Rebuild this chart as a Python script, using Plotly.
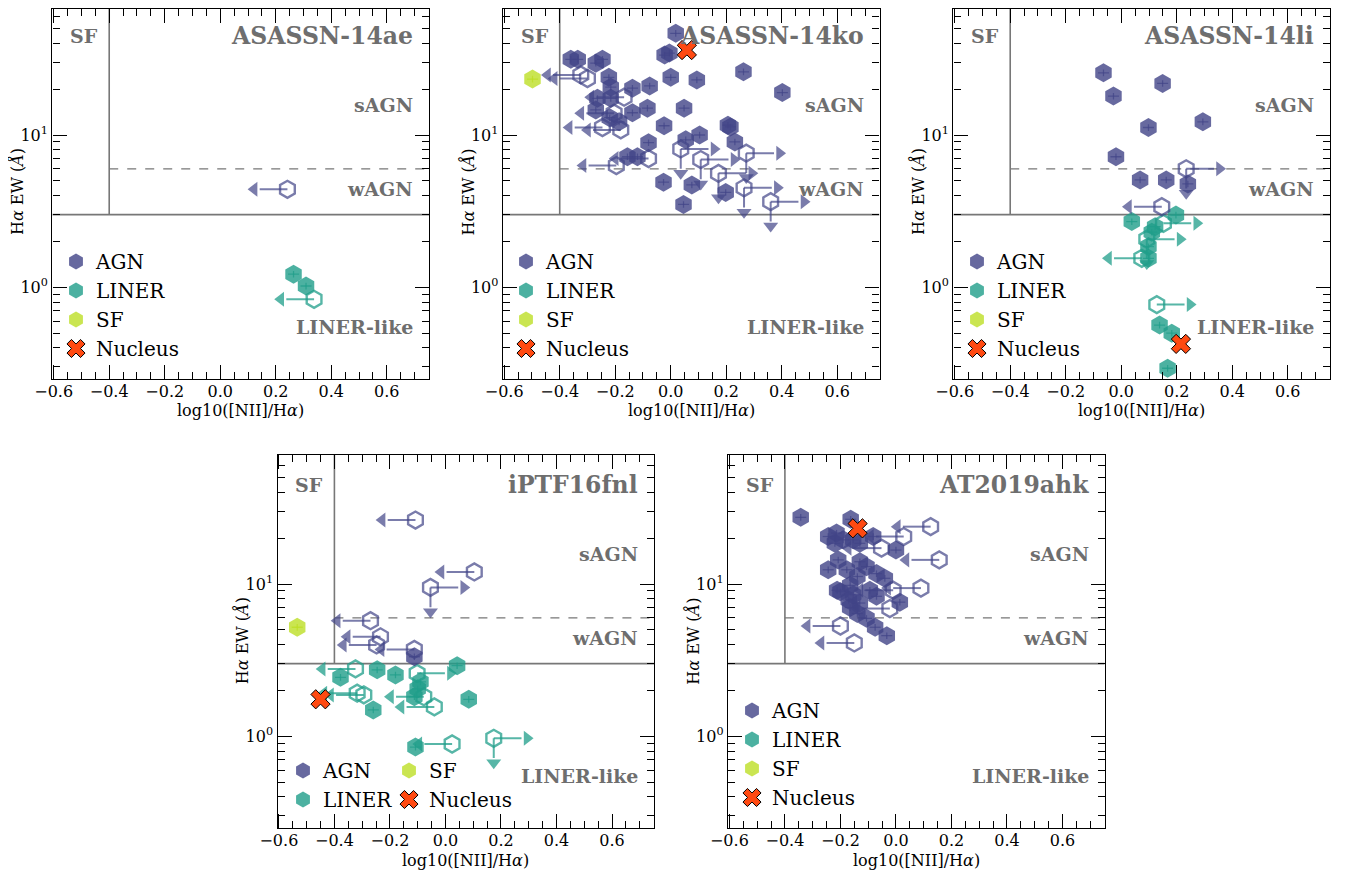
import plotly.graph_objects as go

# ---------------- data ----------------
TITLES = ["ASASSN-14ae", "ASASSN-14ko", "ASASSN-14li", "iPTF16fnl", "AT2019ahk"]

# WHAN boundaries
SF_NII = -0.4
AGN_EW = 3.0
STRONG_EW = 6.0

X_TICKS = [-0.6, -0.4, -0.2, 0.0, 0.2, 0.4, 0.6]
X_TICKTEXT = ["\u22120.6", "\u22120.4", "\u22120.2", "0.0", "0.2", "0.4", "0.6"]
Y_TICKS = [1, 10]
Y_TICKTEXT = ["10<sup>0</sup>", "10<sup>1</sup>"]

# panel 1: ASASSN-14ae
p1_x = [0.242, 0.264, 0.309, 0.338]
p1_y = [4.4, 1.22, 1.02, 0.834]
p1_cls = ["AGN", "LINER", "LINER", "LINER"]
p1_lim = ["L", "", "", "L"]
p1_nuc_x = []
p1_nuc_y = []

# panel 2: ASASSN-14ko
p2_x = [0.018, -0.022, -0.005, -0.36, -0.335, -0.246, -0.27, -0.223, 0.0, 0.094, 0.262, 0.402,
        -0.216, -0.138, -0.076, -0.264, -0.216, 0.048, -0.138, -0.084, -0.27, -0.186, -0.024,
        0.206, 0.215, 0.054, 0.104, -0.08, 0.231, -0.12, -0.156, -0.026, 0.076, 0.198, 0.046,
        -0.22,
        -0.498,
        -0.324, -0.3, -0.168, -0.204, -0.246, -0.18, -0.08, -0.196,
        0.036, 0.108, 0.272, 0.172, 0.264, 0.36]
p2_y = [46.5, 33.5, 34.5, 31.4, 31.4, 31.4, 29.6, 23.9, 23.9, 23.0, 26.0, 19.0,
        20.6, 20.3, 21.0, 17.4, 17.4, 15.0, 14.0, 15.0, 14.6, 12.2, 11.5,
        11.6, 11.3, 9.3, 10.0, 8.9, 9.0, 7.2, 7.2, 4.9, 4.7, 4.2, 3.5,
        13.0,
        23.3,
        24.8, 23.5, 17.7, 13.9, 11.2, 10.8, 7.0, 6.3,
        8.1, 6.9, 7.6, 5.6, 4.5, 3.65]
p2_cls = ["AGN"] * 36 + ["SF"] + ["AGN"] * 14
p2_lim = [""] * 37 + ["L"] * 8 + ["RD"] * 6
p2_nuc_x = [0.058]
p2_nuc_y = [36.1]

# panel 3: ASASSN-14li
p3_x = [-0.064, 0.149, -0.028, 0.294, 0.098, -0.019, 0.24, 0.068, 0.162,
        0.234, 0.146,
        0.038, 0.197, 0.122, 0.098, 0.098, 0.138, 0.182, 0.167, 0.11,
        0.152, 0.092, 0.074, 0.128]
p3_y = [25.6, 21.8, 18.0, 12.2, 11.2, 7.2, 4.77, 5.07, 5.07,
        6.0, 3.38,
        2.7, 2.98, 2.5, 1.85, 1.55, 0.565, 0.50, 0.294, 2.3,
        2.63, 2.07, 1.55, 0.77]
p3_cls = ["AGN"] * 11 + ["LINER"] * 13
p3_lim = [""] * 9 + ["RD", "L"] + [""] * 9 + ["R", "RD", "L", "R"]
p3_nuc_x = [0.215]
p3_nuc_y = [0.425]

# panel 4: iPTF16fnl
p4_x = [-0.108, 0.104, -0.054, -0.27, -0.234, -0.248, -0.112,
        -0.112,
        -0.534,
        -0.324, -0.102, -0.318, -0.294, -0.078, -0.04, 0.174, 0.024,
        -0.378, -0.246, -0.18, -0.09, 0.042, -0.26, -0.112, 0.084, -0.108, -0.1]
p4_y = [26.3, 12.0, 9.5, 5.74, 4.5, 3.98, 3.72,
        3.33,
        5.2,
        2.77, 2.59, 1.92, 1.87, 1.82, 1.56, 0.97, 0.89,
        2.44, 2.73, 2.53, 2.28, 2.91, 1.49, 1.82, 1.75, 0.85, 2.05]
p4_cls = ["AGN"] * 8 + ["SF"] + ["LINER"] * 18
p4_lim = ["L", "L", "RD", "L", "L", "L", "L", "", "",
          "L", "R", "L", "L", "L", "L", "RD", "L"] + [""] * 10
p4_nuc_x = [-0.45]
p4_nuc_y = [1.75]

# panel 5: AT2019ahk
p5_x = [-0.343, -0.163, -0.244, -0.214, -0.22, -0.19, -0.154, -0.13, -0.082, 0.0, -0.208,
        -0.244, -0.177, -0.13, -0.106, -0.07, -0.04, -0.139, -0.165, -0.2, -0.094, -0.17,
        -0.13, -0.07, 0.014, -0.139, -0.106, -0.165, -0.212, -0.154, -0.033, -0.075,
        0.125, 0.028, -0.052, 0.156, 0.09, -0.01, -0.022, -0.2, -0.15]
p5_y = [27.4, 26.6, 20.5, 21.6, 18.5, 19.5, 19.5, 18.5, 20.5, 16.7, 14.4,
        12.4, 12.4, 14.0, 13.0, 11.7, 10.9, 11.2, 9.8, 8.9, 9.1, 7.85,
        7.5, 8.3, 7.6, 6.4, 5.95, 7.0, 9.1, 8.5, 4.58, 5.2,
        23.8, 20.5, 17.2, 14.4, 9.4, 9.1, 6.9, 5.3, 4.1]
p5_cls = ["AGN"] * 41
p5_lim = [""] * 32 + ["L"] * 9
p5_nuc_x = [-0.138]
p5_nuc_y = [23.2]

PANELS = [
    (p1_x, p1_y, p1_cls, p1_lim, p1_nuc_x, p1_nuc_y),
    (p2_x, p2_y, p2_cls, p2_lim, p2_nuc_x, p2_nuc_y),
    (p3_x, p3_y, p3_cls, p3_lim, p3_nuc_x, p3_nuc_y),
    (p4_x, p4_y, p4_cls, p4_lim, p4_nuc_x, p4_nuc_y),
    (p5_x, p5_y, p5_cls, p5_lim, p5_nuc_x, p5_nuc_y),
]

# ---------------- style ----------------
W, H = 1346, 877
OFF = 8  # page body margin
SERIF = "DejaVu Serif"
XR = [-0.605, 0.752]
COL = {"AGN": "rgba(65,68,135,0.8)", "LINER": "rgba(31,158,137,0.8)", "SF": "rgba(189,223,38,0.8)"}
COL_LINE = {"AGN": "rgba(65,68,135,0.7)", "LINER": "rgba(31,158,137,0.75)", "SF": "rgba(189,223,38,0.8)"}
NUC_C = "#ff4a12"
REG_C = "#777777"
LABEL_C = "#6e6e6e"
ARROW_DX = 0.12
ARROW_DLOG = 0.16
DECADE = 152.3  # px per decade

# panel placement in page pixels: (left, top, bottom, pixel of y=10)
PIX = [(52.3, 9.0, 379.3, 135.0), (502.8, 9.0, 379.3, 135.0), (953.3, 9.0, 379.3, 135.0),
       (277.5, 454.7, 828.3, 584.0), (728.0, 454.7, 828.3, 584.0)]
PW = 376.7

fig = go.Figure()
layout = dict(width=W, height=H, margin=dict(l=0, r=0, t=0, b=0),
              paper_bgcolor="white", plot_bgcolor="white", showlegend=True,
              font=dict(family=SERIF, size=16, color="black"))
annotations = []

minor_y = [v * 0.1 for v in range(3, 10)] + list(range(2, 10)) + [20, 30, 40, 50, 60, 70]

for k, (xs, ys, cls, lim, nx, ny) in enumerate(PANELS, start=1):
    xa = "x" if k == 1 else f"x{k}"
    ya = "y" if k == 1 else f"y{k}"
    left, top, bot, y10 = PIX[k - 1]
    yr = [1 - (bot - y10) / DECADE, 1 + (y10 - top) / DECADE]
    ytop_val = 10 ** yr[1]
    left -= OFF
    top -= OFF
    bot -= OFF
    dom_x = [left / W, (left + PW) / W]
    dom_y = [1 - bot / H, 1 - top / H]
    axcommon = dict(showline=True, linecolor="black", linewidth=1.4, mirror="allticks",
                    ticks="inside", ticklen=14, tickwidth=1.2, tickcolor="black",
                    showgrid=False, zeroline=False, automargin=False,
                    tickfont=dict(family=SERIF, size=16, color="black"))
    layout["xaxis" if k == 1 else f"xaxis{k}"] = dict(
        axcommon, domain=dom_x, anchor=ya, range=XR, tickvals=X_TICKS, ticktext=X_TICKTEXT,
        ticklabelstandoff=-3,
        minor=dict(ticks="inside", ticklen=7, tickwidth=1.0, tickcolor="black", dtick=0.05, tick0=0))
    layout["yaxis" if k == 1 else f"yaxis{k}"] = dict(
        axcommon, domain=dom_y, anchor=xa, type="log",
        range=yr, tickvals=Y_TICKS, ticktext=Y_TICKTEXT,
        minor=dict(ticks="inside", ticklen=7, tickwidth=1.0, tickcolor="black", tickvals=minor_y))

    common = dict(xaxis=xa, yaxis=ya, showlegend=False, hoverinfo="skip")
    # region lines
    fig.add_trace(go.Scatter(x=[XR[0], XR[1]], y=[AGN_EW, AGN_EW], mode="lines",
                             line=dict(color=REG_C, width=1.6), **common))
    fig.add_trace(go.Scatter(x=[SF_NII, SF_NII], y=[AGN_EW, ytop_val], mode="lines",
                             line=dict(color=REG_C, width=1.6), **common))
    fig.add_trace(go.Scatter(x=[SF_NII, XR[1]], y=[STRONG_EW, STRONG_EW], mode="lines",
                             line=dict(color=REG_C, width=1.3, dash="dash"), **common))

    for c in ["SF", "LINER", "AGN"]:
        fx = [x for x, cc, l in zip(xs, cls, lim) if cc == c and l == ""]
        fy = [y for y, cc, l in zip(ys, cls, lim) if cc == c and l == ""]
        ox = [x for x, cc, l in zip(xs, cls, lim) if cc == c and l != ""]
        oy = [y for y, cc, l in zip(ys, cls, lim) if cc == c and l != ""]
        ol = [l for cc, l in zip(cls, lim) if cc == c and l != ""]
        # arrows
        lx, ly = [], []
        heads = {"triangle-left": ([], []), "triangle-right": ([], []), "triangle-down": ([], [])}
        for x, y, l in zip(ox, oy, ol):
            if "L" in l:
                lx += [x, x - ARROW_DX + 0.02, None]; ly += [y, y, None]
                heads["triangle-left"][0].append(x - ARROW_DX); heads["triangle-left"][1].append(y)
            if "R" in l:
                lx += [x, x + ARROW_DX - 0.02, None]; ly += [y, y, None]
                heads["triangle-right"][0].append(x + ARROW_DX); heads["triangle-right"][1].append(y)
            if "D" in l:
                yd = y * 10 ** (-ARROW_DLOG)
                lx += [x, x, None]; ly += [y, yd * 10 ** 0.03, None]
                heads["triangle-down"][0].append(x); heads["triangle-down"][1].append(yd)
        if lx:
            fig.add_trace(go.Scatter(x=lx, y=ly, mode="lines",
                                     line=dict(color=COL_LINE[c], width=2), **common))
            for sym, (hx, hy) in heads.items():
                if hx:
                    fig.add_trace(go.Scatter(x=hx, y=hy, mode="markers",
                                             marker=dict(symbol=sym, size=13, color=COL_LINE[c],
                                                         line=dict(width=0)), **common))
        if ox:
            fig.add_trace(go.Scatter(x=ox, y=oy, mode="markers",
                                     marker=dict(symbol="hexagon-open", size=17,
                                                 color=COL_LINE[c], line=dict(width=2.4, color=COL_LINE[c])),
                                     **common))
        if fx:
            fig.add_trace(go.Scatter(x=fx, y=fy, mode="markers",
                                     marker=dict(symbol="hexagon", size=19, color=COL[c], line=dict(width=0)),
                                     error_x=dict(type="constant", value=0.02, color=COL_LINE[c], thickness=1.3, width=0),
                                     error_y=dict(type="percent", value=5, color=COL_LINE[c], thickness=1.3, width=0),
                                     **common))
    if nx:
        fig.add_trace(go.Scatter(x=nx, y=ny, mode="markers",
                                 marker=dict(symbol="x", size=17, color=NUC_C, line=dict(width=1, color="black")),
                                 **common))

    # legends
    leg_names = ["AGN", "LINER", "SF", "Nucleus"]
    if k == 4:
        leg_ids = ["legend4", "legend4", "legend6", "legend6"]
    else:
        lid = "legend" if k == 1 else f"legend{k}"
        leg_ids = [lid] * 4
    for name, lid in zip(leg_names, leg_ids):
        if name == "Nucleus":
            mk = dict(symbol="x", size=17, color=NUC_C, line=dict(width=1, color="black"))
        else:
            mk = dict(symbol="hexagon", size=18, color=COL[name], line=dict(width=0))
        fig.add_trace(go.Scatter(x=[None], y=[None], mode="markers", marker=mk, name=name,
                                 legend=lid, showlegend=True,
                                 xaxis=xa, yaxis=ya, hoverinfo="skip"))

    # annotations in page-pixel offsets relative to the axes box
    ph = bot - top
    def fy_(py):
        return 1 - (py - (top + OFF)) / ph
    def fx_(px):
        return (px - (left + OFF)) / PW
    xd = f"{xa} domain"
    yd = f"{ya} domain"
    y10 = PIX[k - 1][3]
    sh = left + OFF - 52.3
    lab = dict(family=SERIF, size=19, color=LABEL_C, weight="bold")
    annotations += [
        dict(xref=xd, yref=yd, x=fx_(68 + sh), y=fy_(y10 - 99), text="SF", showarrow=False,
             xanchor="left", yanchor="middle", font=lab),
        dict(xref=xd, yref=yd, x=fx_(415 + sh), y=fy_(y10 - 99), text=TITLES[k - 1],
             showarrow=False, xanchor="right", yanchor="middle", font=dict(lab, size=23.5)),
        dict(xref=xd, yref=yd, x=fx_(415 + sh), y=fy_(y10 - 30), text="sAGN",
             showarrow=False, xanchor="right", yanchor="middle", font=lab),
        dict(xref=xd, yref=yd, x=fx_(415 + sh), y=fy_(y10 + 54), text="wAGN",
             showarrow=False, xanchor="right", yanchor="middle", font=lab),
        dict(xref=xd, yref=yd, x=fx_(415 + sh), y=fy_(y10 + 192), text="LINER-like",
             showarrow=False, xanchor="right", yanchor="middle", font=lab),
        dict(xref=xd, yref=yd, x=0.5, y=fy_(y10 + 276), text="log10([NII]/H<i>α</i>)", showarrow=False,
             xanchor="center", yanchor="middle", font=dict(family=SERIF, size=16, color="black")),
        dict(xref=xd, yref=yd, x=fx_(17 + sh), y=fy_(y10 + 57), text="H<i>α</i> EW (<i>Å</i>)",
             showarrow=False, textangle=-90, xanchor="center", yanchor="middle",
             font=dict(family=SERIF, size=16, color="black")),
    ]

legend_style = dict(xanchor="left", yanchor="top", bgcolor="rgba(0,0,0,0)",
                    font=dict(family=SERIF, size=20, color="black"), tracegroupgap=0,
                    itemsizing="trace", orientation="v")
LEG_POS = {"legend": (56, 242), "legend2": (506, 242), "legend3": (957, 242),
           "legend4": (283, 751), "legend6": (389, 751), "legend5": (732, 691)}
for lid, (px, py) in LEG_POS.items():
    layout[lid] = dict(legend_style, x=(px - OFF) / W, y=1 - (py - OFF) / H)

layout["annotations"] = annotations
fig.update_layout(**layout)
fig.write_html("out.html")
